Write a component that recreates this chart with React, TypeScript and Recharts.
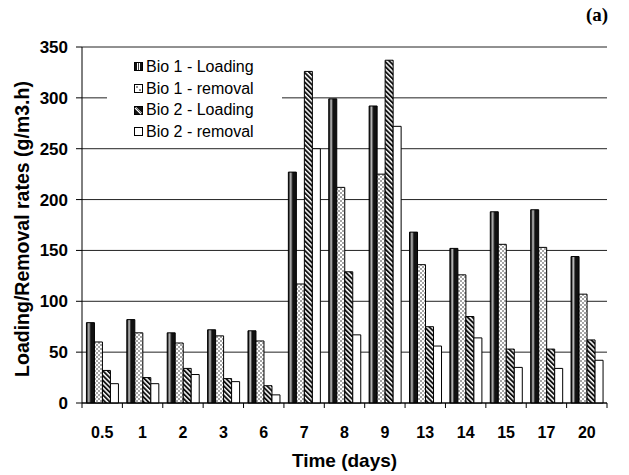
import React from 'react';
import { BarChart, Bar, XAxis, YAxis, CartesianGrid, Legend, Label } from 'recharts';

const categories = ['0.5', '1', '2', '3', '6', '7', '8', '9', '13', '14', '15', '17', '20'];
const bio1Loading = [79, 82, 69, 72, 71, 227, 299, 292, 168, 152, 188, 190, 144];
const bio1Removal = [60, 69, 59, 66, 61, 117, 212, 225, 136, 126, 156, 153, 107];
const bio2Loading = [32, 25, 34, 24, 17, 326, 129, 337, 75, 85, 53, 53, 62];
const bio2Removal = [19, 19, 28, 21, 8, 250, 67, 272, 56, 64, 35, 34, 42];
const seriesNames = ['Bio 1 - Loading', 'Bio 1 - removal', 'Bio 2 - Loading', 'Bio 2 - removal'];
const yTicks = [0, 50, 100, 150, 200, 250, 300, 350];

const data = categories.map((c, i) => ({
  day: c,
  b1l: bio1Loading[i],
  b1r: bio1Removal[i],
  b2l: bio2Loading[i],
  b2r: bio2Removal[i],
}));

const W = 629;
const H = 475;
const MARGIN = { top: 47, right: 22, bottom: 0, left: 0 };
const Y_W = 82;
const X_H = 72;
const PLOT_W = W - MARGIN.left - MARGIN.right - Y_W;
const FONT = "'Liberation Sans', Arial, Helvetica, sans-serif";

const XTick = (props: any) => {
  const { x, y, payload, index } = props;
  const band = PLOT_W / categories.length;
  const last = index === categories.length - 1;
  return (
    <g>
      <line x1={x - band / 2} x2={x - band / 2} y1={y} y2={y + 5} stroke="#000" />
      {last && <line x1={x + band / 2} x2={x + band / 2} y1={y} y2={y + 5} stroke="#000" />}
      <text x={x} y={y + 35} textAnchor="middle" fontFamily={FONT} fontWeight="bold" fontSize={16} fill="#000">
        {payload.value}
      </text>
    </g>
  );
};

const YTitle = (props: any) => {
  const vb = props.viewBox;
  const cx = 22;
  const cy = vb.y + vb.height / 2 + 4;
  return (
    <text
      x={cx}
      y={cy}
      transform={`rotate(-90, ${cx}, ${cy})`}
      textAnchor="middle"
      dominantBaseline="central"
      fontFamily={FONT}
      fontWeight="bold"
      fontSize={19.5}
      fill="#000"
    >
      Loading/Removal rates (g/m3.h)
    </text>
  );
};

const XTitle = (props: any) => {
  const vb = props.viewBox;
  return (
    <text x={vb.x + vb.width / 2} y={vb.y + 64} textAnchor="middle" fontFamily={FONT} fontWeight="bold" fontSize={19} fill="#000">
      Time (days)
    </text>
  );
};

const LegendIcon = ({ idx }: { idx: number }) => (
  <svg width={9} height={9} style={{ display: 'block', marginRight: 3 }}>
    {idx === 0 && (
      <g>
        <rect x={0.5} y={0.5} width={8} height={8} fill="#111" stroke="#000" />
        <rect x={3} y={1} width={1.2} height={7} fill="#fff" />
        <rect x={5} y={1} width={1} height={7} fill="#fff" />
      </g>
    )}
    {idx === 1 && (
      <g>
        <rect x={0.5} y={0.5} width={8} height={8} fill="#fff" stroke="#000" />
        <circle cx={3} cy={3} r={0.8} fill="#000" />
        <circle cx={6} cy={6} r={0.8} fill="#000" />
      </g>
    )}
    {idx === 2 && (
      <g>
        <rect x={0.5} y={0.5} width={8} height={8} fill="#111" stroke="#000" />
        <line x1={1} y1={2} x2={7} y2={8} stroke="#fff" strokeWidth={1.2} />
        <line x1={2} y1={1} x2={8} y2={7} stroke="#fff" strokeWidth={0.6} />
      </g>
    )}
    {idx === 3 && <rect x={0.5} y={0.5} width={8} height={8} fill="#fff" stroke="#000" />}
  </svg>
);

const renderLegend = () => (
  <div style={{ background: '#fff', paddingLeft: 27, paddingTop: 0 }}>
    {seriesNames.map((n, i) => (
      <div
        key={n}
        style={{ display: 'flex', alignItems: 'center', height: 21.7, fontFamily: FONT, fontSize: 16, color: '#000', whiteSpace: 'nowrap' }}
      >
        <LegendIcon idx={i} />
        <span>{n}</span>
      </div>
    ))}
  </div>
);

export default function App() {
  return (
    <div style={{ position: 'absolute', left: 0, top: 0, width: W, height: H, background: '#fff' }}>
      <BarChart width={W} height={H} data={data} margin={MARGIN} barCategoryGap="11%" barGap={0}>
        <defs>
          <pattern id="pB1L" patternUnits="objectBoundingBox" patternContentUnits="objectBoundingBox" width={1} height={1}>
            <rect x={0} y={0} width={1} height={1} fill="#111" />
            <rect x={0.14} y={0} width={0.3} height={1} fill="#8c8c8c" />
            <rect x={0.26} y={0} width={0.07} height={1} fill="#e0e0e0" />
          </pattern>
          <pattern id="pB1R" patternUnits="userSpaceOnUse" width={4} height={4}>
            <rect x={0} y={0} width={4} height={4} fill="#fff" />
            <circle cx={1} cy={1} r={0.8} fill="#333" />
            <circle cx={3} cy={3} r={0.8} fill="#333" />
          </pattern>
          <pattern id="pB2L" patternUnits="userSpaceOnUse" width={3.4} height={3.4} patternTransform="rotate(-45)">
            <rect x={0} y={0} width={3.4} height={3.4} fill="#fff" />
            <rect x={0} y={0} width={1.9} height={3.4} fill="#111" />
          </pattern>
        </defs>
        <text x={597} y={21} textAnchor="middle" fontFamily="'Liberation Serif', 'Times New Roman', serif" fontWeight="bold" fontSize={19} fill="#000">
          (a)
        </text>
        <CartesianGrid vertical={false} stroke="#222" strokeWidth={1} />
        <XAxis
          dataKey="day"
          height={X_H}
          axisLine={{ stroke: '#000' }}
          tickLine={false}
          tickSize={0}
          tickMargin={0}
          interval={0}
          tick={<XTick />}
        >
          <Label content={<XTitle />} />
        </XAxis>
        <YAxis
          width={Y_W}
          domain={[0, 350]}
          ticks={yTicks}
          axisLine={{ stroke: '#000' }}
          tickLine={{ stroke: '#000' }}
          tickSize={6}
          tickMargin={8}
          tick={{ fontFamily: FONT, fontWeight: 'bold', fontSize: 17, fill: '#000' }}
        >
          <Label content={<YTitle />} />
        </YAxis>
        <YAxis yAxisId="right" orientation="right" width={0} domain={[0, 350]} tick={false} tickLine={false} axisLine={{ stroke: '#000' }} />
        <Legend
          layout="vertical"
          align="center"
          verticalAlign="middle"
          content={renderLegend}
          wrapperStyle={{ left: 107, top: 56, width: 175, height: 88, background: '#fff' }}
        />
        <Bar dataKey="b1l" name={seriesNames[0]} fill="url(#pB1L)" stroke="#000" strokeWidth={1} isAnimationActive={false} />
        <Bar dataKey="b1r" name={seriesNames[1]} fill="url(#pB1R)" stroke="#000" strokeWidth={1} isAnimationActive={false} />
        <Bar dataKey="b2l" name={seriesNames[2]} fill="url(#pB2L)" stroke="#000" strokeWidth={1} isAnimationActive={false} />
        <Bar dataKey="b2r" name={seriesNames[3]} fill="#fff" stroke="#000" strokeWidth={1} isAnimationActive={false} />
      </BarChart>
    </div>
  );
}
